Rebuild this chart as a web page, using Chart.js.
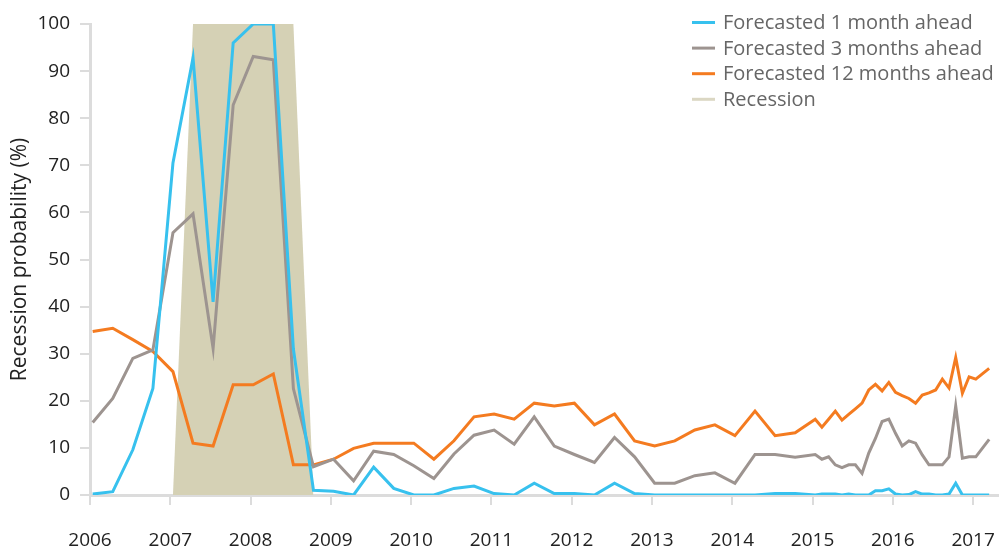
<!DOCTYPE html>
<html>
<head>
<meta charset="utf-8">
<title>Recession probability</title>
<script src="https://cdn.jsdelivr.net/npm/chart.js@4.4.1/dist/chart.umd.min.js"></script>
<style>
    html, body { margin: 0; padding: 0; background: #fff; }
    #wrap { position: relative; width: 999px; height: 552px; }
</style>
</head>
<body>
<div id="wrap"><canvas id="recessionChart"></canvas></div>
<script>
// Observation months: quarterly until 2015, monthly afterwards
const months = [
    '2006-01', '2006-04', '2006-07', '2006-10',
    '2007-01', '2007-04', '2007-07', '2007-10',
    '2008-01', '2008-04', '2008-07', '2008-10',
    '2009-01', '2009-04', '2009-07', '2009-10',
    '2010-01', '2010-04', '2010-07', '2010-10',
    '2011-01', '2011-04', '2011-07', '2011-10',
    '2012-01', '2012-04', '2012-07', '2012-10',
    '2013-01', '2013-04', '2013-07', '2013-10',
    '2014-01', '2014-04', '2014-07', '2014-10',
    '2015-01', '2015-02', '2015-03', '2015-04', '2015-05', '2015-06',
    '2015-07', '2015-08', '2015-09', '2015-10', '2015-11', '2015-12',
    '2016-01', '2016-02', '2016-03', '2016-04', '2016-05', '2016-06',
    '2016-07', '2016-08', '2016-09', '2016-10', '2016-11', '2016-12',
    '2017-01', '2017-03'
];

const oneMonthAhead = [
    0.2, 0.7, 9.6, 22.6,
    70.5, 92.8, 41, 96,
    100, 100, 31, 1,
    0.8, 0, 5.9, 1.4,
    0, 0, 1.4, 1.9,
    0.3, 0, 2.5, 0.3,
    0.3, 0, 2.5, 0.3,
    0, 0, 0, 0,
    0, 0, 0.3, 0.3,
    0, 0.2, 0.2, 0.2, 0, 0.2,
    0, 0, 0, 0.9, 0.9, 1.3,
    0.2, 0, 0.1, 0.7, 0.2, 0.2,
    0, 0, 0.2, 2.5, 0, 0,
    0, 0
];

const threeMonthsAhead = [
    15.4, 20.5, 29, 30.8,
    55.7, 59.7, 31.1, 82.8,
    93.1, 92.4, 22.6, 6,
    7.6, 3, 9.3, 8.6,
    6.2, 3.5, 8.7, 12.7,
    13.8, 10.8, 16.6, 10.4,
    8.6, 6.9, 12.2, 8.1,
    2.5, 2.5, 4.1, 4.7,
    2.5, 8.6, 8.6, 8.0,
    8.6, 7.6, 8.1, 6.4, 5.8, 6.4,
    6.4, 4.6, 8.9, 12, 15.6, 16.1,
    13.1, 10.4, 11.5, 11, 8.5, 6.4,
    6.4, 6.4, 8.1, 18.9, 7.8, 8.1,
    8.1, 11.8
];

const twelveMonthsAhead = [
    34.7, 35.4, 33, 30.5,
    26.2, 11, 10.4, 23.4,
    23.4, 25.7, 6.4, 6.4,
    7.6, 9.9, 11, 11,
    11, 7.6, 11.5, 16.6,
    17.2, 16.1, 19.5, 18.9,
    19.5, 14.9, 17.2, 11.5,
    10.4, 11.5, 13.8, 14.9,
    12.6, 17.8, 12.6, 13.2,
    16.1, 14.4, 16.1, 17.8, 15.9, 17.1,
    18.3, 19.5, 22.3, 23.5, 22.1, 23.9,
    21.8, 21.1, 20.5, 19.5, 21.2, 21.7,
    22.3, 24.6, 22.7, 29.2, 21.6, 25.1,
    24.6, 26.9
];

// Recession band (0 = no recession, 100 = recession)
const recessionMonths = ['2007-01', '2007-04', '2008-07', '2008-10'];
const recessionValues = [0, 100, 100, 0];

const yearTicks = [2006, 2007, 2008, 2009, 2010, 2011, 2012, 2013, 2014, 2015, 2016, 2017];
const percentTicks = [0, 10, 20, 30, 40, 50, 60, 70, 80, 90, 100];

// 'YYYY-MM' -> decimal year (mid of month)
function toYear(m) {
    const [y, mo] = m.split('-').map(Number);
    return y + (mo - 0.6) / 12;
}

function toPoints(labels, values) {
    return labels.map((m, i) => ({ x: toYear(m), y: values[i] }));
}

const FONT = "'Open Sans', 'Noto Sans', sans-serif";

// legend drawn inside the plot, top right
const cornerLegend = {
    id: 'cornerLegend',
    afterDraw(chart) {
        const ctx = chart.ctx;
        ctx.save();
        ctx.font = '20px ' + FONT;
        ctx.textBaseline = 'middle';
        ctx.textAlign = 'left';
        chart.data.datasets.forEach((ds, i) => {
            const y = 22.5 + i * 25.6;
            ctx.strokeStyle = ds.legendColor || ds.borderColor;
            ctx.lineWidth = 3;
            ctx.beginPath();
            ctx.moveTo(692, y);
            ctx.lineTo(715, y);
            ctx.stroke();
            ctx.fillStyle = '#666666';
            ctx.fillText(ds.label, 723, y + 1);
        });
        ctx.restore();
    }
};

const lineStyle = {
    borderWidth: 3,
    pointRadius: 0,
    pointHoverRadius: 0,
    tension: 0,
    fill: false
};

new Chart(document.getElementById('recessionChart'), {
    type: 'line',
    data: {
        datasets: [
            { ...lineStyle, label: 'Forecasted 1 month ahead', data: toPoints(months, oneMonthAhead), borderColor: '#37c1ee' },
            { ...lineStyle, label: 'Forecasted 3 months ahead', data: toPoints(months, threeMonthsAhead), borderColor: '#9d9490' },
            { ...lineStyle, label: 'Forecasted 12 months ahead', data: toPoints(months, twelveMonthsAhead), borderColor: '#f47b20' },
            {
                label: 'Recession',
                data: toPoints(recessionMonths, recessionValues),
                borderWidth: 0,
                borderColor: '#d5d1b5',
                backgroundColor: '#d5d1b5',
                legendColor: '#dbd7c3',
                pointRadius: 0,
                tension: 0,
                fill: 'origin'
            }
        ]
    },
    options: {
        responsive: true,
        maintainAspectRatio: false,
        animation: false,
        layout: { padding: { top: 24, right: 1, left: 0, bottom: 0 } },
        plugins: {
            legend: { display: false },
            tooltip: { enabled: false }
        },
        scales: {
            x: {
                type: 'linear',
                min: 2006,
                max: 2017.31,
                afterBuildTicks: (scale) => { scale.ticks = yearTicks.map(v => ({ value: v })); },
                afterFit: (scale) => {
                    scale.height = 57;
                    scale.paddingLeft = 0;
                    scale.paddingRight = 0;
                },
                grid: {
                    drawOnChartArea: false,
                    color: '#dcdcdc',
                    lineWidth: 2,
                    tickLength: 10
                },
                border: { color: '#dcdcdc', width: 3 },
                ticks: {
                    padding: 24,
                    color: '#222222',
                    font: { family: FONT, size: 19 },
                    maxRotation: 0,
                    callback: (v) => String(v)
                }
            },
            y: {
                min: 0,
                max: 100,
                afterBuildTicks: (scale) => { scale.ticks = percentTicks.map(v => ({ value: v })); },
                afterFit: (scale) => {
                    scale.width = 90;
                    scale.paddingTop = 0;
                    scale.paddingBottom = 0;
                },
                grid: {
                    drawOnChartArea: false,
                    color: '#dcdcdc',
                    lineWidth: 2,
                    tickLength: 10
                },
                border: { color: '#dcdcdc', width: 3 },
                ticks: {
                    padding: 10,
                    color: '#222222',
                    font: { family: FONT, size: 19 }
                },
                title: {
                    display: true,
                    text: 'Recession probability (%)',
                    color: '#222222',
                    font: { family: FONT, size: 21 },
                    padding: { top: 7, bottom: 0 }
                }
            }
        }
    },
    plugins: [cornerLegend]
});
</script>
</body>
</html>
